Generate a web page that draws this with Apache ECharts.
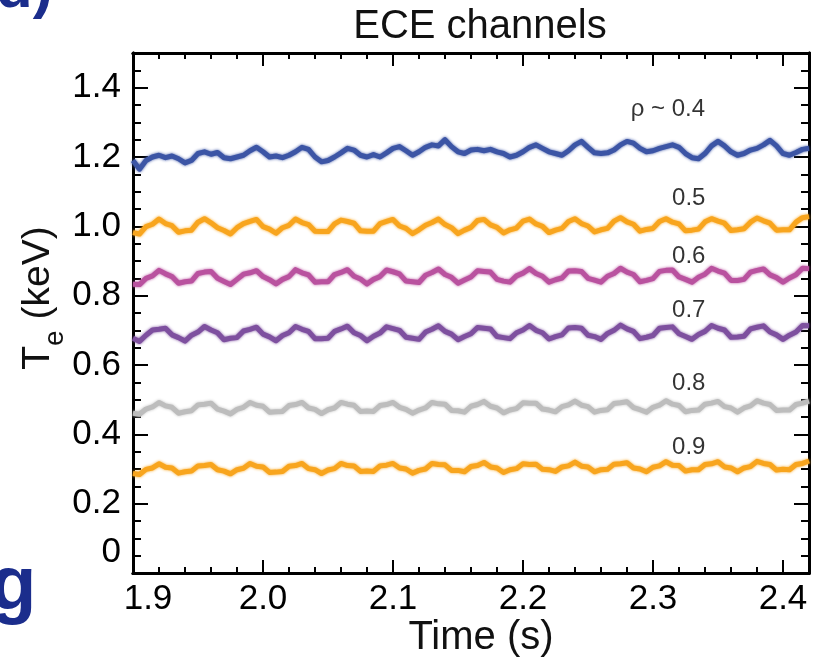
<!DOCTYPE html>
<html>
<head>
<meta charset="utf-8">
<script src="https://cdn.jsdelivr.net/npm/echarts@6/dist/echarts.min.js"></script>
<style>
  html, body { margin: 0; padding: 0; background: #ffffff; }
  #chart { width: 819px; height: 663px; }
</style>
</head>
<body>
<div id="chart"></div>
<script>
// ECE electron temperature traces, sampled every 5 ms from t = 1.900 s
const sampleStart = 1.9;
const sampleStep = 0.005;

// Te (keV) per ECE channel
const te04 = [
  1.190,1.165,1.190,1.200,1.205,1.198,1.203,1.195,1.183,1.190,
  1.210,1.215,1.208,1.213,1.198,1.195,1.200,1.205,1.218,1.228,
  1.215,1.200,1.203,1.198,1.205,1.215,1.228,1.222,1.200,1.186,
  1.190,1.200,1.212,1.225,1.220,1.205,1.200,1.207,1.200,1.212,
  1.225,1.230,1.218,1.205,1.215,1.228,1.235,1.232,1.250,1.230,
  1.215,1.210,1.220,1.222,1.218,1.222,1.215,1.210,1.200,1.205,
  1.215,1.228,1.235,1.225,1.215,1.210,1.205,1.218,1.235,1.245,
  1.228,1.212,1.210,1.212,1.220,1.235,1.245,1.240,1.225,1.215,
  1.218,1.225,1.230,1.235,1.228,1.210,1.198,1.195,1.210,1.232,
  1.245,1.232,1.215,1.205,1.210,1.220,1.225,1.235,1.248,1.232,
  1.210,1.205,1.213,1.222,1.225
];
const te05 = [
  0.982,0.978,0.999,1.006,1.021,1.008,1.002,0.983,0.987,0.989,
  1.012,1.022,1.010,0.996,0.988,0.978,0.996,1.008,1.014,1.020,
  0.999,0.992,0.980,0.996,1.003,1.021,1.011,1.005,0.986,0.985,
  0.985,1.007,1.018,1.014,1.009,0.987,0.986,0.986,1.008,1.014,
  1.020,1.001,0.994,0.979,0.990,1.003,1.011,1.021,1.005,0.996,
  0.979,0.989,0.997,1.017,1.020,1.004,0.997,0.981,0.990,0.995,
  1.015,1.021,1.007,1.000,0.982,0.989,0.994,1.014,1.022,1.008,
  1.001,0.984,0.990,0.994,1.015,1.025,1.013,1.006,0.986,0.991,
  0.994,1.014,1.022,1.012,1.007,0.987,0.989,0.992,1.013,1.022,
  1.015,1.009,0.988,0.990,0.993,1.012,1.024,1.016,1.009,0.989,
  0.990,0.990,1.012,1.025,1.028
];
const te06 = [
  0.833,0.832,0.850,0.857,0.873,0.863,0.855,0.836,0.840,0.842,
  0.864,0.868,0.870,0.850,0.841,0.832,0.847,0.862,0.866,0.872,
  0.855,0.846,0.834,0.847,0.855,0.875,0.866,0.860,0.839,0.840,
  0.840,0.861,0.867,0.875,0.856,0.848,0.834,0.847,0.855,0.874,
  0.869,0.863,0.842,0.840,0.838,0.859,0.867,0.877,0.861,0.853,
  0.836,0.845,0.854,0.872,0.870,0.868,0.847,0.842,0.839,0.857,
  0.865,0.878,0.864,0.856,0.839,0.846,0.851,0.871,0.872,0.870,
  0.850,0.845,0.839,0.856,0.864,0.879,0.868,0.861,0.840,0.844,
  0.849,0.870,0.873,0.874,0.854,0.847,0.839,0.853,0.862,0.879,
  0.871,0.865,0.844,0.844,0.847,0.868,0.873,0.877,0.860,0.852,
  0.839,0.851,0.860,0.879,0.878
];
const te07 = [
  0.677,0.668,0.686,0.701,0.703,0.706,0.687,0.679,0.669,0.686,
  0.695,0.711,0.701,0.693,0.673,0.677,0.679,0.698,0.703,0.709,
  0.689,0.681,0.670,0.685,0.693,0.711,0.703,0.697,0.676,0.676,
  0.677,0.697,0.704,0.712,0.693,0.685,0.670,0.683,0.692,0.710,
  0.705,0.700,0.680,0.677,0.674,0.695,0.703,0.713,0.697,0.689,
  0.673,0.682,0.690,0.708,0.706,0.704,0.682,0.679,0.676,0.693,
  0.701,0.714,0.700,0.693,0.675,0.682,0.687,0.707,0.708,0.706,
  0.686,0.682,0.674,0.691,0.700,0.715,0.704,0.697,0.676,0.680,
  0.685,0.706,0.708,0.710,0.690,0.682,0.674,0.688,0.697,0.714,
  0.706,0.701,0.680,0.681,0.683,0.704,0.709,0.713,0.695,0.687,
  0.674,0.686,0.695,0.714,0.713
];
const te08 = [
  0.461,0.458,0.473,0.479,0.492,0.482,0.478,0.461,0.465,0.468,
  0.485,0.487,0.490,0.473,0.467,0.459,0.472,0.478,0.492,0.484,
  0.481,0.464,0.465,0.466,0.483,0.486,0.492,0.476,0.472,0.460,
  0.471,0.476,0.492,0.487,0.484,0.466,0.467,0.466,0.483,0.486,
  0.492,0.478,0.472,0.461,0.470,0.476,0.492,0.488,0.487,0.469,
  0.468,0.464,0.481,0.486,0.495,0.481,0.476,0.462,0.470,0.474,
  0.491,0.490,0.490,0.473,0.470,0.465,0.480,0.485,0.496,0.484,
  0.480,0.464,0.469,0.471,0.489,0.491,0.494,0.477,0.471,0.464,
  0.478,0.484,0.497,0.487,0.483,0.465,0.469,0.470,0.487,0.490,
  0.495,0.480,0.476,0.464,0.476,0.482,0.497,0.490,0.486,0.469,
  0.470,0.470,0.486,0.490,0.496
];
const te09 = [
  0.287,0.284,0.299,0.303,0.315,0.305,0.303,0.288,0.292,0.294,
  0.309,0.310,0.313,0.298,0.294,0.286,0.298,0.302,0.316,0.308,
  0.306,0.290,0.291,0.293,0.308,0.310,0.316,0.301,0.298,0.287,
  0.297,0.301,0.316,0.310,0.309,0.293,0.294,0.293,0.309,0.311,
  0.316,0.303,0.300,0.288,0.296,0.300,0.316,0.313,0.312,0.296,
  0.296,0.292,0.307,0.310,0.319,0.306,0.303,0.290,0.298,0.301,
  0.315,0.313,0.314,0.299,0.298,0.293,0.306,0.309,0.320,0.308,
  0.306,0.292,0.298,0.299,0.314,0.315,0.318,0.303,0.300,0.292,
  0.305,0.309,0.321,0.311,0.310,0.294,0.298,0.298,0.313,0.315,
  0.321,0.306,0.303,0.292,0.303,0.307,0.322,0.316,0.313,0.297,
  0.299,0.298,0.313,0.316,0.323
];

// channel annotations (normalised radius) and where they sit, in data units
const channelLabels = ['ρ ~ 0.4', '0.5', '0.6', '0.7', '0.8', '0.9'];
const labelTimes = [2.3115, 2.3275, 2.3275, 2.3275, 2.3275, 2.3275];
const labelValues = [1.338, 1.082, 0.914, 0.759, 0.548, 0.363];

const channelColors = ['#3c55a5', '#f8a51e', '#b9529f', '#7e509f', '#bdbdbd', '#f8a51e'];
const channelData = [te04, te05, te06, te07, te08, te09];

// axis ranges and tick spacing
const xMin = 1.9, xMax = 2.42, xMajor = 0.1, xMinor = 0.02;
const yMin = 0, yMax = 1.5, yMajor = 0.2, yMinor = 0.05;

const FONT = '"Liberation Sans", Arial, Helvetica, sans-serif';
const INK = '#000000';

function toSeriesPoints(values) {
  return values.map((v, i) => [sampleStart + i * sampleStep, v]);
}

function xAxisDef(position, interval, tickLen, withLabels) {
  return {
    type: 'value', gridIndex: 0, position: position,
    min: xMin, max: xMax, interval: interval,
    axisLine: { show: true, onZero: false, lineStyle: { color: INK, width: 3 } },
    axisTick: { show: true, inside: true, length: tickLen, lineStyle: { color: INK, width: 2 } },
    axisLabel: withLabels ? {
      show: true, margin: 9, color: INK, fontSize: 35, fontFamily: FONT,
      showMaxLabel: false,
      formatter: v => Math.abs(v - xMin) < 1e-9 ? '{m|' + v.toFixed(1) + '}' : v.toFixed(1),
      rich: { m: { fontSize: 35, fontFamily: FONT, color: INK, padding: [0, 0, 0, 30] } }
    } : { show: false },
    splitLine: { show: false }
  };
}

function yAxisDef(position, interval, tickLen, withLabels) {
  return {
    type: 'value', gridIndex: 0, position: position,
    min: yMin, max: yMax, interval: interval,
    axisLine: { show: true, onZero: false, lineStyle: { color: INK, width: 3 } },
    axisTick: { show: true, inside: true, length: tickLen, lineStyle: { color: INK, width: 2 } },
    axisLabel: withLabels ? {
      show: true, margin: 12, color: INK, fontSize: 35, fontFamily: FONT,
      showMaxLabel: false,
      formatter: v => Math.abs(v) < 1e-9 ? '{z|0}' : v.toFixed(1),
      rich: { z: { fontSize: 35, fontFamily: FONT, color: INK, padding: [0, 0, 42, 0] } }
    } : { show: false },
    splitLine: { show: false }
  };
}

const chart = echarts.init(document.getElementById('chart'), null, { renderer: 'canvas' });

const traceSeries = channelData.map((vals, k) => ({
  type: 'line',
  name: channelLabels[k],
  xAxisIndex: 0, yAxisIndex: 0,
  data: toSeriesPoints(vals),
  showSymbol: false,
  symbol: 'none',
  smooth: false,
  lineStyle: {
    color: channelColors[k], width: 5, join: 'round',
    shadowColor: channelColors[k], shadowBlur: 3
  },
  emphasis: { disabled: true },
  silent: true,
  z: 3
}));

const labelSeries = {
  type: 'scatter',
  xAxisIndex: 0, yAxisIndex: 0,
  symbolSize: 0,
  silent: true,
  data: labelTimes.map((t, k) => ({ value: [t, labelValues[k]], name: channelLabels[k] })),
  label: {
    show: true, position: 'inside', formatter: p => p.name,
    color: INK, fontSize: 24, fontFamily: FONT
  },
  z: 5
};

chart.setOption({
  animation: false,
  backgroundColor: '#ffffff',
  textStyle: { fontFamily: FONT },
  grid: { left: 133, right: 10, top: 53, bottom: 90, containLabel: false },
  xAxis: [
    xAxisDef('bottom', xMajor, 13, true),
    xAxisDef('bottom', xMinor, 6, false),
    xAxisDef('top', xMajor, 13, false),
    xAxisDef('top', xMinor, 6, false)
  ],
  yAxis: [
    yAxisDef('left', yMajor, 15, true),
    yAxisDef('left', yMinor, 8, false),
    yAxisDef('right', yMajor, 15, false),
    yAxisDef('right', yMinor, 8, false)
  ],
  series: traceSeries.concat([labelSeries]),
  graphic: [
    {
      type: 'text', x: 480, y: 27,
      style: { text: 'ECE channels', fill: '#111', font: '40px ' + FONT, align: 'center', verticalAlign: 'middle' }
    },
    {
      type: 'text', x: 481, y: 638,
      style: { text: 'Time (s)', fill: '#111', font: '40px ' + FONT, align: 'center', verticalAlign: 'middle' }
    },
    {
      type: 'text', x: 44, y: 298, rotation: Math.PI / 2,
      style: {
        text: '{t|T}{s|e}{t| (keV)}',
        align: 'center', verticalAlign: 'middle',
        rich: {
          t: { fontSize: 39, fontFamily: FONT, fill: '#111', lineHeight: 50, verticalAlign: 'top' },
          s: { fontSize: 28, fontFamily: FONT, fill: '#111', lineHeight: 28, verticalAlign: 'bottom' }
        }
      }
    },
    {
      type: 'text', x: -4, y: 20,
      style: { text: 'd)', fill: '#1b2d8c', font: 'bold 60px ' + FONT, align: 'left', verticalAlign: 'bottom' }
    },
    {
      type: 'text', x: -10, y: 626,
      style: { text: 'g', fill: '#1b2d8c', font: 'bold 76px ' + FONT, align: 'left', verticalAlign: 'bottom' }
    }
  ]
});
</script>
</body>
</html>
